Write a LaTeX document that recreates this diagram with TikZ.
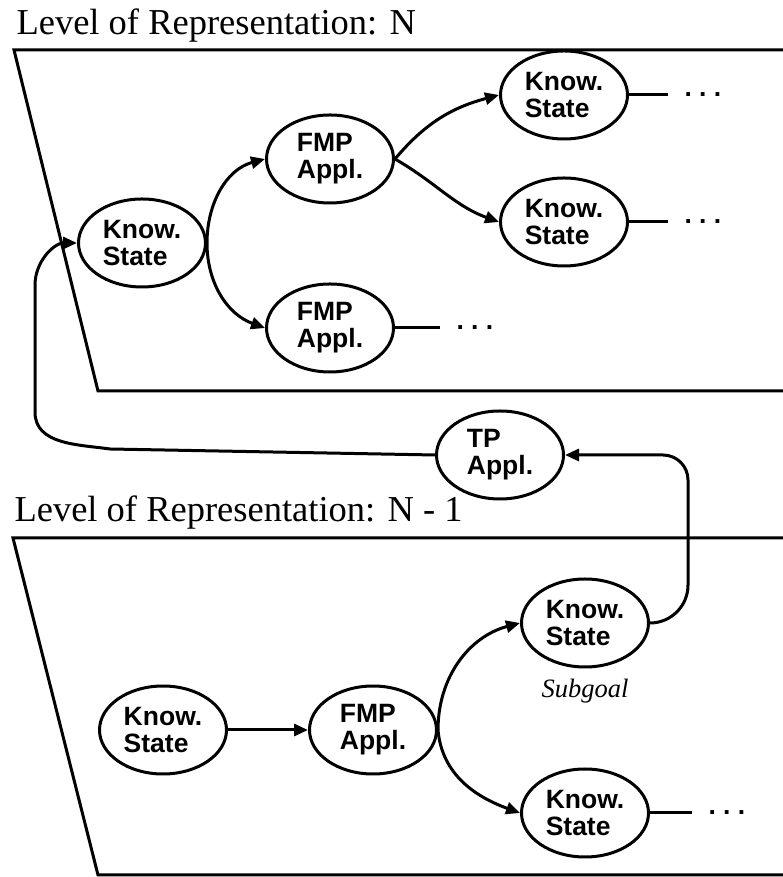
\documentclass[tikz,border=0pt]{standalone}
\usepackage{fontspec}
\setmainfont{Liberation Serif}
\setsansfont{Liberation Sans}
\usetikzlibrary{arrows.meta,shapes.geometric}

\begin{document}
\begin{tikzpicture}[x=1pt,y=1pt,line width=3pt,
  state/.style={ellipse,draw,inner sep=0pt,minimum width=127pt,minimum height=88pt,
    align=left,font=\sffamily\bfseries\fontsize{26.5}{27}\selectfont},
  flow/.style={-{Triangle[length=14pt,width=12pt]}},
  level/.style={anchor=base west,inner sep=0pt,font=\fontsize{36.5}{40}\selectfont},
  more/.style={anchor=west,inner xsep=15pt,inner ysep=0pt,
    font=\sffamily\bfseries\fontsize{26.5}{27}\selectfont}]
\useasboundingbox (0,0) rectangle (783,877);

\node[level] (levn) at (15,842) {Level of Representation: N};
\draw (783,827) -- (14,827) -- (98,486) -- (783,486);
\node[level] (levm) at (13,355) {Level of Representation: N - 1};
\draw (783,339) -- (13,339) -- (98,2) -- (783,2);

\node[state] (ks1) at (142,634) {Know.\\State};
\node[state] (fmp1) at (330,718) {FMP\\Appl.};
\node[state] (fmp2) at (330,549) {FMP\\Appl.};
\node[state] (ksa) at (564,782) {Know.\\State};
\node[state] (ksb) at (564,655) {Know.\\State};
\node[more] (morea) at (668,782) {.\ .\ .};
\node[more] (moreb) at (668,655) {.\ .\ .};
\node[more] (morec) at (440,549) {.\ .\ .};

\draw[flow] (ks1.east) to[out=90,in=195] (fmp1.west);
\draw[flow] (ks1.east) to[out=-90,in=160] (fmp2.west);
\draw[flow] (fmp1.east) to[out=50,in=195] (ksa.west);
\draw[flow] (fmp1.east) to[out=-30,in=160] (ksb.west);
\draw (ksa.east) -- (morea.west);
\draw (ksb.east) -- (moreb.west);
\draw (fmp2.east) -- (morec.west);

\node[state] (tp) at (500,422) {TP\\Appl.};
\draw[flow] (tp.west) -- (110,428) to[out=172,in=-90] (35,465) -- (35,592)
  to[out=90,in=180] (ks1.west);

\node[state] (ks4) at (163,147) {Know.\\State};
\node[state] (fmp3) at (373,147) {FMP\\Appl.};
\node[state] (ks5) at (585,254) {Know.\\State};
\node[state] (ks6) at (585,64) {Know.\\State};
\node[anchor=base,inner sep=0pt,font=\itshape\fontsize{26.5}{30}\selectfont] (sub) at (585,179) {Subgoal};
\node[more] (mored) at (692,64) {.\ .\ .};

\draw[flow] (ks4.east) -- (fmp3.west);
\draw[flow] (fmp3.east) to[out=90,in=195] (ks5.west);
\draw[flow] (fmp3.east) to[out=-85,in=160] (ks6.west);
\draw (ks6.east) -- (mored.west);
\draw[flow] (ks5.east) to[out=0,in=-90] ++(38,38) [rounded corners=25pt] |- (tp.east);
\end{tikzpicture}
\end{document}
